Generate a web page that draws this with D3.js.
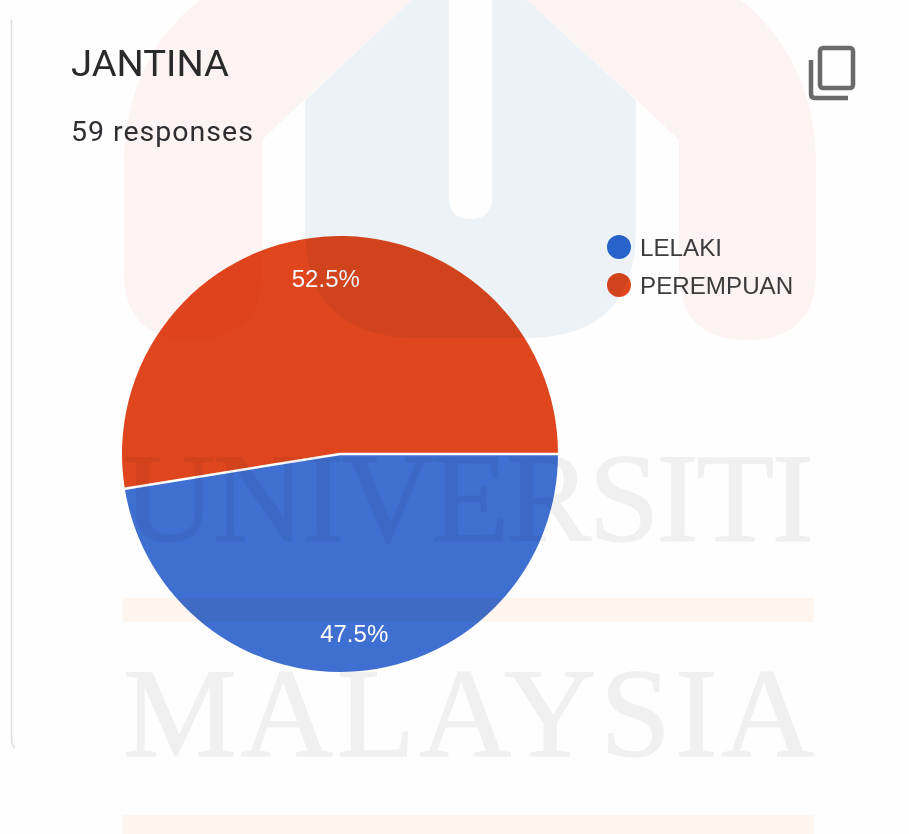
<!DOCTYPE html>
<html>
  <head>
    <meta charset="utf-8">
    <title>JANTINA</title>
    <script src="https://d3js.org/d3.v7.min.js"></script>
    <style>
      html, body { margin: 0; padding: 0; background: #fefefe; }
      svg { display: block; font-family: Roboto, sans-serif; }
      #watermark { mix-blend-mode: multiply; }
      .arial { font-family: "Liberation Sans", Arial, sans-serif; }
    </style>
  </head>
  <body>
    <svg id="chart" width="909" height="834"></svg>
    <script>
      // data
      var categories = ["LELAKI", "PEREMPUAN"];
      var responses = [28, 31];
      var colours = ["#3f6fd1", "#df461e"];
      var title = "JANTINA";
      var subtitle = responses[0] + responses[1] + " responses";

      var svg = d3.select("#chart");
      var total = d3.sum(responses);
      var pct = d3.format(".1%");

      // card edge on the left
      svg.append("path")
        .attr("d", "M11.5,20V738Q11.5,745 15,748")
        .attr("fill", "none")
        .attr("stroke", "#dcdcdc")
        .attr("stroke-width", 1.5);

      svg.append("text")
        .attr("x", 71)
        .attr("y", 76)
        .attr("font-size", 36)
        .attr("fill", "#2a2a2d")
        .attr("textLength", 158)
        .attr("lengthAdjust", "spacingAndGlyphs")
        .text(title);

      svg.append("text")
        .attr("x", 71)
        .attr("y", 141)
        .attr("font-size", 28.5)
        .attr("letter-spacing", 1)
        .attr("fill", "#2f2f33")
        .text(subtitle);

      // copy icon
      var icon = svg.append("g")
        .attr("fill", "none")
        .attr("stroke", "#6a6a6a")
        .attr("stroke-width", 4.5);
      icon.append("rect")
        .attr("x", 820).attr("y", 48)
        .attr("width", 33).attr("height", 40)
        .attr("rx", 3);
      icon.append("path")
        .attr("d", "M811,60V94Q811,98 815,98H848");

      // pie, blue slice starts at 3 o'clock and runs clockwise
      var centre = [340, 454];
      var radius = 218;
      var pie = d3.pie()
        .sort(null)
        .startAngle(Math.PI / 2)
        .endAngle(Math.PI / 2 + 2 * Math.PI);
      var arc = d3.arc().innerRadius(0).outerRadius(radius);
      var labelArc = d3.arc().innerRadius(178).outerRadius(178);

      var pieGroup = svg.append("g")
        .attr("transform", "translate(" + centre + ")");
      var pieData = pie(responses);

      pieGroup.selectAll(".slice")
          .data(pieData)
        .enter().append("path")
          .attr("class", "slice")
          .attr("d", arc)
          .attr("fill", function(d, i) { return colours[i]; });

      // white lines between the slices only, not round the rim
      pieGroup.selectAll(".divider")
          .data(pieData)
        .enter().append("line")
          .attr("class", "divider")
          .attr("x2", function(d) { return d3.pointRadial(d.startAngle, radius)[0]; })
          .attr("y2", function(d) { return d3.pointRadial(d.startAngle, radius)[1]; })
          .attr("stroke", "#fff")
          .attr("stroke-width", 2.5);

      pieGroup.selectAll(".label")
          .data(pieData)
        .enter().append("text")
          .attr("class", "label arial")
          .attr("transform", function(d) { return "translate(" + labelArc.centroid(d) + ")"; })
          .attr("dy", "0.42em")
          .attr("text-anchor", "middle")
          .attr("font-size", 24)
          .attr("fill", "#fff")
          .text(function(d) { return pct(d.value / total); });

      // legend
      var legendY = d3.scalePoint().domain(categories).range([247, 285]);
      var legend = svg.append("g")
        .selectAll("g")
          .data(categories)
        .enter().append("g")
          .attr("transform", function(d) { return "translate(0," + legendY(d) + ")"; });
      legend.append("circle")
        .attr("cx", 619)
        .attr("r", 12)
        .attr("fill", function(d, i) { return i ? "#df461e" : "#2a68d2"; });
      legend.append("text")
        .attr("class", "arial")
        .attr("x", 640)
        .attr("dy", "0.36em")
        .attr("font-size", 24.2)
        .attr("fill", "#3c3c40")
        .text(function(d) { return d; });

      // university watermark, printed over everything
      var mark = svg.append("g").attr("id", "watermark");
      mark.append("path")
        .attr("fill", "#fef4f3")
        .attr("d", "M200,0C160,30 124,85 124,165V272Q124,340 192,340Q262,340 262,272V140L304,100L412,0Z");
      mark.append("path")
        .attr("fill", "#fef4f3")
        .attr("d", "M527,0L637,100L679,140V272Q679,340 747,340Q816,340 816,272V165C816,85 780,30 740,0Z");
      mark.append("path")
        .attr("fill", "#eef3f7")
        .attr("fill-rule", "evenodd")
        .attr("d", "M412,0L305,100V230Q305,338 420,338H525Q636,338 636,230V100L527,0ZM449,0V197Q449,219 470,219Q492,219 492,197V0Z");
      mark.append("rect")
        .attr("x", 123).attr("y", 598)
        .attr("width", 691).attr("height", 24)
        .attr("fill", "#fef6ef");
      mark.append("rect")
        .attr("x", 123).attr("y", 815)
        .attr("width", 691).attr("height", 19)
        .attr("fill", "#fef6ef");
      mark.selectAll(".word")
        .data([["UNIVERSITI", 540.5], ["MALAYSIA", 755.5]])
        .enter().append("text")
          .attr("class", "word")
          .attr("x", 123)
          .attr("y", function(d) { return d[1]; })
          .attr("font-family", "'Liberation Serif', serif")
          .attr("font-size", 128)
          .attr("fill", "#f1f1f1")
          .attr("stroke", "#f1f1f1")
          .attr("stroke-width", 1)
          .attr("textLength", 691)
          .attr("lengthAdjust", "spacing")
          .text(function(d) { return d[0]; });
    </script>
  </body>
</html>
